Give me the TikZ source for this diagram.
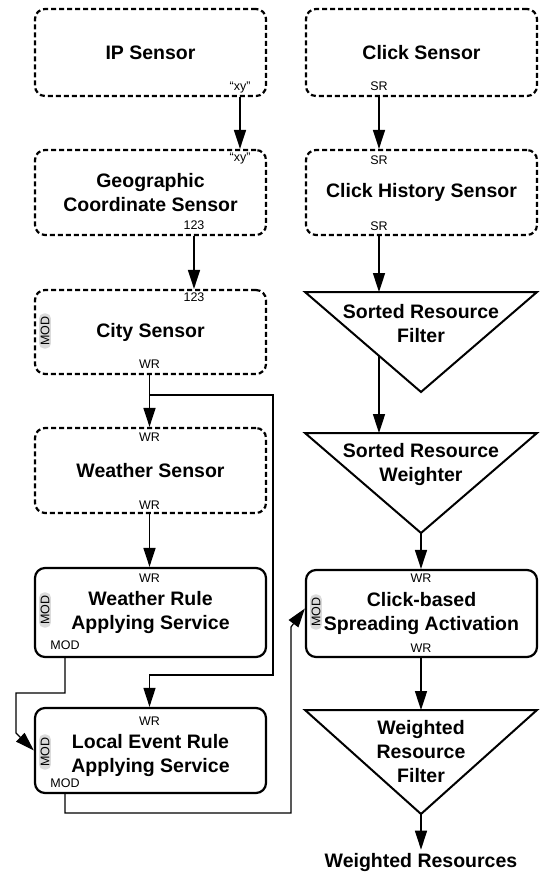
\documentclass[tikz,border=0pt]{standalone}
\usepackage{fontspec}
\setmainfont{Liberation Sans}
\usetikzlibrary{arrows.meta, calc}
\definecolor{modpill}{gray}{0.86}

\begin{document}
\begin{tikzpicture}[x=1pt, y=-1pt,
		sensor/.style={draw, line width=2.2pt, dash pattern=on 5pt off 3pt, rounded corners=10pt,
			minimum width=231pt, align=center, font=\fontsize{19.5}{24}\selectfont\bfseries},
		service/.style={sensor, solid},
		title/.style={align=center, inner sep=0pt, font=\fontsize{19.5}{24}\selectfont\bfseries},
		port/.style={inner sep=0pt, font=\fontsize{12.5}{12.5}\selectfont},
		modtag/.style={fill=modpill, rounded corners=5pt, rotate=90, inner xsep=3pt, inner ysep=1.5pt,
			font=\fontsize{12.5}{12.5}\selectfont},
		flow/.style={line width=1.6pt, -{Triangle[length=19pt, width=12pt]}},
		wire/.style={line width=1.2pt, -{Triangle[length=19pt, width=12pt]}},
		filter/.style={line width=2pt, line join=miter}]

	\useasboundingbox (0,0) rectangle (544,881);

	% left column: location chain
	\node[sensor, minimum height=87pt] (ip) at (150.5,52.5) {IP Sensor};
	\node[sensor, minimum height=85pt] (geo) at (150.5,192.5) {Geographic\\Coordinate Sensor};
	\node[sensor, minimum height=84pt] (city) at (150.5,332) {City Sensor};
	\node[sensor, minimum height=85pt] (weather) at (150.5,470.5) {Weather Sensor};
	\node[service, minimum height=89pt] (rule) at (150.5,612.5) {Weather Rule\\Applying Service};
	\node[service, minimum height=85pt] (local) at (150.5,750.5) {};
	\node[title] (localtitle) at (150.5,755.5) {Local Event Rule\\Applying Service};

	% left column: ports
	\node[port] (ipxy) at (240,87) {“xy”};
	\node[port] (geoxy) at (240,158) {“xy”};
	\node[port] (geo123) at (194,225) {123};
	\node[port] (city123) at (194,297) {123};
	\node[port] (citywr) at (149.5,364) {WR};
	\node[port] (weatherwrin) at (149.5,437) {WR};
	\node[port] (weatherwr) at (149.5,505) {WR};
	\node[port] (rulewr) at (149.5,578) {WR};
	\node[port] (rulemod) at (65,645) {MOD};
	\node[port] (localwr) at (149.5,721) {WR};
	\node[port] (localmod) at (65,783) {MOD};

	\node[modtag] (citymodtag) at (45,331) {MOD};
	\node[modtag] (rulemodtag) at (45,610) {MOD};
	\node[modtag] (localmodtag) at (45,752) {MOD};

	% right column: click chain
	\node[sensor, minimum height=87pt] (click) at (421.5,52.5) {Click Sensor};
	\node[sensor, minimum height=85pt] (hist) at (421.5,192.5) {Click History Sensor};
	\node[service, minimum height=87pt] (spread) at (421.5,613.5) {Click-based\\Spreading Activation};

	\node[port] (clicksr) at (379,86) {SR};
	\node[port] (histsrin) at (379,160) {SR};
	\node[port] (histsr) at (379,226) {SR};
	\node[port] (spreadwrin) at (421,578) {WR};
	\node[port] (spreadwr) at (421,648) {WR};
	\node[modtag] (spreadmodtag) at (316,612) {MOD};

	% filters
	\draw[filter] (305,292) coordinate (srfL) -- (537,292) -- (421,392) coordinate (srfA) -- cycle;
	\node[title] (srf) at (421,323.5) {Sorted Resource\\Filter};
	\draw[filter] (305,433) coordinate (srwL) -- (537,433) -- (421,533) coordinate (srwA) -- cycle;
	\node[title] (srw) at (421,464) {Sorted Resource\\Weighter};
	\draw[filter] (305,710) coordinate (wrfL) -- (537,710) -- (421,814) coordinate (wrfA) -- cycle;
	\node[title] (wrf) at (421,752) {Weighted\\Resource\\Filter};

	\node[title, inner sep=3pt] (result) at (421,862) {Weighted Resources};

	% connectors, left
	\draw[flow] (ipxy |- ip.south) -- (ipxy |- geo.north);
	\draw[flow] (geo123 |- geo.south) -- (geo123 |- city.north);
	\draw[flow] (citywr |- city.south) -- (citywr |- weather.north);
	\draw[flow] (weatherwr |- weather.south) -- (weatherwr |- rule.north);

	\coordinate (bypass) at (273,395);
	\coordinate (bypassend) at (273,675);
	\draw[wire] (citywr |- city.south) |- (bypass) -- (bypassend) -| (localwr |- local.north);

	\coordinate (modleft) at (16,693);
	\draw[wire] (rulemod |- rule.south) |- (modleft) -- ++(0,40) -- (local.west);

	\coordinate (modright) at (291,813);
	\draw[wire] (localmod |- local.south) |- (modright) -- ++(0,-186) -- ([yshift=5pt]spread.west);

	% connectors, right
	\draw[flow] (clicksr |- click.south) -- (clicksr |- hist.north);
	\draw[flow] (histsr |- hist.south) -- (histsr |- srfL);
	\draw[flow] ($(srfL)!0.638!(srfA)$) -- (histsr |- srwL);
	\draw[flow] (srwA) -- (srwA |- spread.north);
	\draw[flow] (spreadwr |- spread.south) -- (spreadwr |- wrfL);
	\draw[flow] (wrfA) -- (result.north);

\end{tikzpicture}
\end{document}
